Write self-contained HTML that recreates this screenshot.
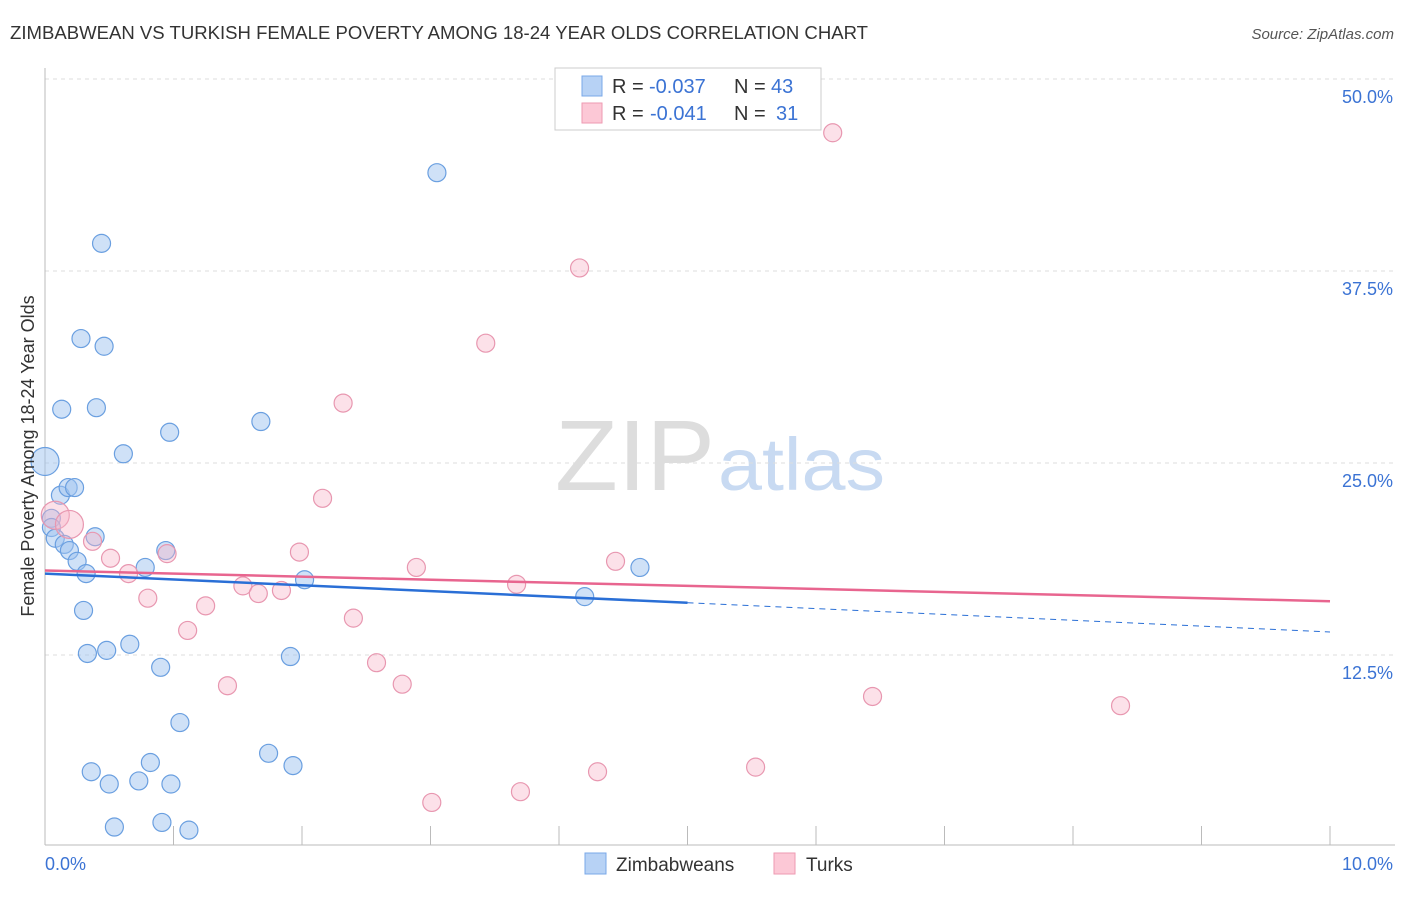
<!DOCTYPE html>
<html><head><meta charset="utf-8"><style>
body{margin:0;background:#fff;font-family:"Liberation Sans",sans-serif;}
svg text{font-family:"Liberation Sans",sans-serif;}
</style></head><body>
<svg id="chart" width="1406" height="892" xmlns="http://www.w3.org/2000/svg">
<text x="10" y="39" font-size="18" fill="#333" textLength="858" lengthAdjust="spacingAndGlyphs">ZIMBABWEAN VS TURKISH FEMALE POVERTY AMONG 18-24 YEAR OLDS CORRELATION CHART</text>
<text x="1394" y="39" font-size="15" fill="#555" text-anchor="end" font-style="italic">Source: ZipAtlas.com</text>
<text x="555" y="490" font-size="100" fill="#ddd" textLength="160" lengthAdjust="spacingAndGlyphs" font-family="Liberation Serif">ZIP</text>
<text x="718" y="490" font-size="74" fill="#c8daf2" textLength="167" lengthAdjust="spacingAndGlyphs">atlas</text>
<g id="grid"></g>
<g id="axes"></g>
<g id="marks"></g>
<text transform="translate(34,456) rotate(-90)" font-size="18" fill="#333" text-anchor="middle">Female Poverty Among 18-24 Year Olds</text>
<g>
<rect x="555" y="68" width="266" height="62" fill="#fff" stroke="#ccc"/>
<rect x="582" y="76" width="20" height="20" fill="#b7d2f5" stroke="#7aa8e8"/>
<rect x="582" y="103" width="20" height="20" fill="#fcc8d6" stroke="#ee9ab2"/>
<text x="612" y="93" font-size="20" fill="#333">R =</text>
<text x="649" y="93" font-size="20" fill="#3b73d4">-0.037</text>
<text x="734" y="93" font-size="20" fill="#333">N =</text>
<text x="771" y="93" font-size="20" fill="#3b73d4">43</text>
<text x="612" y="120" font-size="20" fill="#333">R =</text>
<text x="650" y="120" font-size="20" fill="#3b73d4">-0.041</text>
<text x="734" y="120" font-size="20" fill="#333">N =</text>
<text x="776" y="120" font-size="20" fill="#3b73d4">31</text>
</g>
<g>
<rect x="585" y="853" width="21" height="21" fill="#b7d2f5" stroke="#7aa8e8"/>
<text x="616" y="871" font-size="19" fill="#333">Zimbabweans</text>
<rect x="774" y="853" width="21" height="21" fill="#fcc8d6" stroke="#ee9ab2"/>
<text x="806" y="871" font-size="19" fill="#333">Turks</text>
</g>
</svg>
<script>
const blueX=[3.05,0.44,0.28,0.46,0.13,0.40,0.97,1.68,0.61,0.0,0.12,0.18,0.23,0.05,0.05,0.08,0.15,0.19,0.39,0.94,0.25,0.32,0.78,2.02,4.63,4.20,0.30,0.66,0.33,0.48,0.90,1.91,1.05,1.74,1.93,0.82,0.36,0.50,0.73,0.98,0.54,0.91,1.12];
const blueY=[43.9,39.3,33.1,32.6,28.5,28.6,27.0,27.7,25.6,25.1,22.9,23.4,23.4,21.4,20.8,20.1,19.7,19.3,20.2,19.3,18.6,17.8,18.2,17.4,18.2,16.3,15.4,13.2,12.6,12.8,11.7,12.4,8.1,6.1,5.3,5.5,4.9,4.1,4.3,4.1,1.3,1.6,1.1];
const blueBig=[9];
const pinkX=[6.13,4.16,3.43,2.32,2.16,0.08,0.19,0.37,0.95,1.98,0.51,0.65,2.89,4.44,3.67,1.54,1.66,1.84,0.80,1.25,2.40,1.11,2.58,1.42,2.78,6.44,8.37,4.30,5.53,3.01,3.70];
const pinkY=[46.5,37.7,32.8,28.9,22.7,21.6,21.0,19.9,19.1,19.2,18.8,17.8,18.2,18.6,17.1,17.0,16.5,16.7,16.2,15.7,14.9,14.1,12.0,10.5,10.6,9.8,9.2,4.9,5.2,2.9,3.6];
const pinkBig=[5,6];
const blueTrend=[17.8,14.0]; const blueSolidEnd=5.0;
const pinkTrend=[18.0,16.0];
const yTicks=[12.5,25,37.5,50];
const yTickLabels=["12.5%","25.0%","37.5%","50.0%"];
const xTicks=[0,1,2,3,4,5,6,7,8,9,10];

const NS="http://www.w3.org/2000/svg";
const X=v=>45+v*128.5, Y=v=>847-v*15.36;
function mk(t,a,p){const e=document.createElementNS(NS,t);for(const k in a)e.setAttribute(k,a[k]);p.appendChild(e);return e;}
const grid=document.getElementById('grid'),axes=document.getElementById('axes'),marks=document.getElementById('marks');
yTicks.forEach((t,i)=>{
 const l=mk('line',{x1:45,x2:1395,y1:Y(t),y2:Y(t),stroke:'#ddd','stroke-dasharray':'4,4'},grid);
 
 
 const tx=mk('text',{x:1393,y:Y(t)+24,'font-size':18,fill:'#3b73d4','text-anchor':'end'},grid);
 tx.textContent=yTickLabels[i];
 
 
});
mk('line',{x1:45,x2:1395,y1:845,y2:845,stroke:'#bbb'},axes);
mk('line',{x1:45,x2:45,y1:68,y2:845,stroke:'#bbb'},axes);
xTicks.forEach(t=>{const l=mk('line',{x1:X(t),x2:X(t),y1:826,y2:845,stroke:'#bbb'},axes);
 
 });
const x0=mk('text',{x:45,y:870,'font-size':18,fill:'#3b73d4'},axes);x0.textContent='0.0%';


const x1=mk('text',{x:1393,y:870,'font-size':18,fill:'#3b73d4','text-anchor':'end'},axes);x1.textContent='10.0%';


function pts(xs,ys,big,fill,stroke,name){xs.forEach((x,i)=>{
 const c=mk('circle',{cx:X(x),cy:Y(ys[i]),r:big.includes(i)?14:9,fill:fill,stroke:stroke,'stroke-width':1.2},marks);
 
 });}
pts(blueX,blueY,blueBig,'rgba(160,196,240,0.5)','#6a9fe0','zimbabwean-point');
pts(pinkX,pinkY,pinkBig,'rgba(248,180,200,0.4)','#e897b0','turkish-point');
const bAt=v=>blueTrend[0]+(blueTrend[1]-blueTrend[0])*v/10;
const bl=mk('line',{x1:X(0),y1:Y(blueTrend[0]),x2:X(blueSolidEnd),y2:Y(bAt(blueSolidEnd)),stroke:'#2a6fd6','stroke-width':2.5},marks);


const bd=mk('line',{x1:X(blueSolidEnd),y1:Y(bAt(blueSolidEnd)),x2:X(10),y2:Y(blueTrend[1]),stroke:'#2a6fd6','stroke-width':1,'stroke-dasharray':'6,5'},marks);


const pl=mk('line',{x1:X(0),y1:Y(pinkTrend[0]),x2:X(10),y2:Y(pinkTrend[1]),stroke:'#e8658f','stroke-width':2.5},marks);


</script>
</body></html>
